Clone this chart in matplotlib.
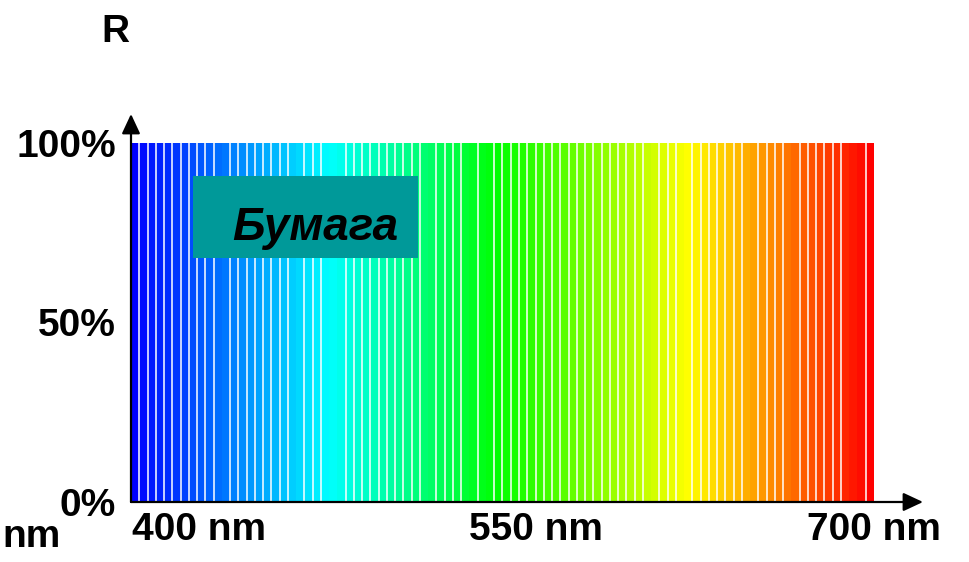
import colorsys
import numpy as np
import matplotlib
matplotlib.use("Agg")
from matplotlib import pyplot as plt
from matplotlib.patches import Rectangle

plt.rcParams['font.family'] = ['Liberation Sans', 'DejaVu Sans']

# spectral bands of the paper reflectance (nm) and measured R in %
wl_lo, wl_hi = 370.0, 700.0
reflectance = [100] * 90
# bands that touch their left neighbour (no white separator)
joined = [11, 20, 24, 25, 36, 41, 43, 63, 67, 75, 80, 87, 88]

# hue of the band colour (deg) at a few band numbers: blue, cyan, green, yellow, red
hue_band = [0, 23.5, 44, 67, 89]
hue_deg = [240, 180, 120, 60, 0]

x_ticks = [400, 550, 700]
x_ticklabels = ['400 nm', '550 nm', '700 nm']
y_ticks = [0, 50, 100]
y_ticklabels = ['0%', '50%', '100%']

n = len(reflectance)
bw = (wl_hi - wl_lo) / n
left = wl_lo + bw * np.arange(n)
hues = np.interp(np.arange(n), hue_band, hue_deg)
cols = [colorsys.hsv_to_rgb(h / 360.0, 1.0, 1.0) for h in hues]

fig = plt.figure(figsize=(9.69, 5.62), dpi=100)
ax = fig.add_axes([131 / 969, 60 / 562, 792 / 969, 388 / 562])

ax.bar(left, reflectance, width=bw, align='edge', color=cols, linewidth=0)
sep = [left[k] for k in range(1, n) if k not in joined]
ax.vlines(sep, 0, reflectance[0], colors='white', linewidth=1.1)

x_end = wl_lo + 792 / 2.2515
y_end = 388 / 3.59
ax.set_xlim(wl_lo, x_end)
ax.set_ylim(0, y_end)

for s in ax.spines.values():
    s.set_visible(False)

arr = dict(arrowstyle='-|>,head_length=0.6,head_width=0.28', color='black',
           lw=1.6, mutation_scale=20, shrinkA=0, shrinkB=0)
ax.annotate('', xy=(x_end, 0), xytext=(wl_lo, 0), arrowprops=arr,
            annotation_clip=False)
ax.annotate('', xy=(wl_lo, y_end), xytext=(wl_lo, 0), arrowprops=arr,
            annotation_clip=False)

ax.set_xticks(x_ticks)
ax.set_xticklabels(x_ticklabels, fontsize=28, fontweight='bold')
ax.set_yticks(y_ticks)
ax.set_yticklabels(y_ticklabels, fontsize=28, fontweight='bold')
ax.tick_params(axis='x', length=0, pad=7)
ax.tick_params(axis='y', length=0, pad=11)

# label box
ax.add_patch(Rectangle((397.4, 68.0), 99.9, 22.8, facecolor='#009999',
                       edgecolor='none', zorder=3))
ax.text(414.9, 73.0, 'Бумага', fontsize=33, fontweight='bold', style='italic',
        color='black', va='baseline', ha='left', zorder=4)

fig.text(115 / 969, 1 - 42 / 562, 'R', fontsize=28, fontweight='bold',
         ha='center', va='baseline')
fig.text(2 / 969, 1 - 547 / 562, 'nm', fontsize=28, fontweight='bold',
         ha='left', va='baseline')

fig.savefig('out.png', dpi=100)
